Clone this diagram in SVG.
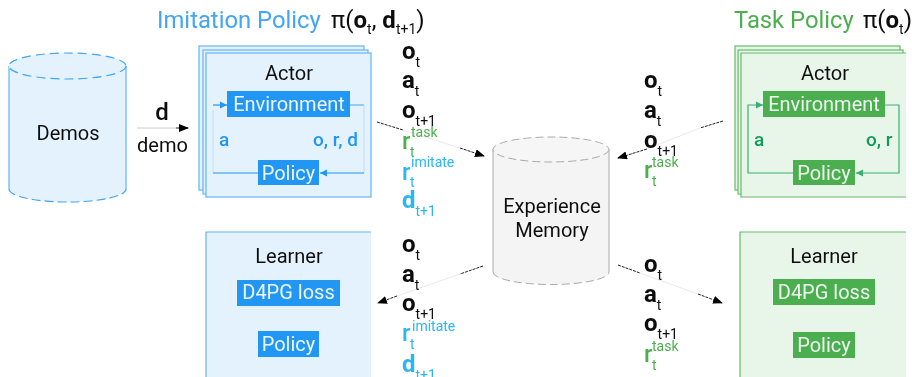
<svg xmlns="http://www.w3.org/2000/svg" width="912" height="377" viewBox="0 0 912 377">
<defs>
<filter id="soft" x="0" y="0" width="912" height="377" filterUnits="userSpaceOnUse"><feGaussianBlur stdDeviation="0.4"/></filter>
<marker id="ah" markerWidth="11" markerHeight="8" refX="9" refY="4" orient="auto" markerUnits="userSpaceOnUse"><path d="M0,0 L10,4 L0,8 Z" fill="#000"/></marker>
<marker id="ab" markerWidth="8" markerHeight="8" refX="7" refY="4" orient="auto" markerUnits="userSpaceOnUse"><path d="M0,0.5 L7,4 L0,7.5 Z" fill="#2196f3"/></marker>
<marker id="ag" markerWidth="8" markerHeight="8" refX="7" refY="4" orient="auto" markerUnits="userSpaceOnUse"><path d="M0,0.5 L7,4 L0,7.5 Z" fill="#0f9d58"/></marker>
</defs>
<style>
text{font-family:Roboto,"Liberation Sans",sans-serif;fill:#111}
.bf{fill:#e3f2fd;stroke:#64b5f6;stroke-width:1.2}
.gf{fill:#e8f5e9;stroke:#66bb6a;stroke-width:1.2}
.bb{fill:#2196f3}
.gb{fill:#4caf50}
.w{fill:#eef6fd;font-size:20px;text-anchor:middle}
.wg{fill:#eef8ef;font-size:20px;text-anchor:middle}
.l{font-size:20px;text-anchor:middle}
.m{font-size:24px;font-weight:700}
.r{font-weight:500}
.s{font-size:14px;font-weight:400}
.bt{fill:#2196f3}
.gt{fill:#4caf50}
.ct{fill:#29b6f6}
.tb{fill:#0f9d58}
.lb{fill:none;stroke:#2196f3;stroke-width:1.2}
.lg{fill:none;stroke:#0f9d58;stroke-width:1.2;opacity:.8}
.d{stroke:#222;stroke-width:1;stroke-dasharray:3 1;fill:none}
.p{stroke:#e8e8e8;stroke-width:1;fill:none}
</style>
<g filter="url(#soft)">
<g id="demos">
<path d="M9,66 V189 A58.5,13 0 0 0 126,189 V66 Z" fill="#e3f2fd"/>
<path d="M9,66 V189 M126,189 V66" fill="none" stroke="#64b5f6" stroke-width="1.2"/>
<path d="M9,189 A58.5,13 0 0 0 126,189" fill="none" stroke="#42a5f5" stroke-width="1.2" stroke-dasharray="9 4"/>
<ellipse cx="67.500" cy="66" rx="58.500" ry="13" fill="#e3f2fd" stroke="#42a5f5" stroke-width="1.200" stroke-dasharray="9 5"/>
<text x="68" y="140" class="l">Demos</text>
</g>
<g id="demo-label">
<text x="162" y="120" font-size="24" font-weight="500" text-anchor="middle">d</text>
<text x="162.500" y="152" class="l">demo</text>
</g>
<g id="imitation-title">
<text x="157" y="28" font-size="23.800" style="fill:#42a5f5">Imitation Policy</text>
<text x="331" y="28" font-size="24">π(<tspan font-weight="700">o</tspan><tspan font-size="14" dy="6">t</tspan><tspan dy="-6">, </tspan><tspan font-weight="700">d</tspan><tspan font-size="14" dy="6">t+1</tspan><tspan dy="-6">)</tspan></text>
</g>
<g id="task-title">
<text x="734" y="28" font-size="23.800" style="fill:#4caf50">Task Policy</text>
<text x="863" y="28" font-size="24">π(<tspan font-weight="700">o</tspan><tspan font-size="14" dy="6">t</tspan><tspan dy="-6">)</tspan></text>
</g>
<g id="imitation-actor">
<rect x="199" y="46" width="165" height="144" class="bf"/>
<rect x="203" y="50" width="165" height="144" class="bf"/>
<rect x="206" y="53" width="165" height="144" class="bf"/>
<text x="289" y="80" class="l">Actor</text>
<path d="M350,105 H364" class="lb" style="opacity:.7"/>
<path d="M364,105 V173 M213,110 V173" fill="none" stroke="#bbdefb" stroke-width="1"/>
<path d="M364,173 H320" class="lb" marker-end="url(#ab)"/>
<path d="M258,173 H213" class="lb"/>
<path d="M213,105 H227" class="lb" marker-end="url(#ab)"/>
<rect x="227" y="91" width="123" height="26" class="bb"/>
<text x="289" y="111" class="w">Environment</text>
<rect x="258" y="160" width="61" height="25" class="bb"/>
<text x="288.500" y="180" class="w">Policy</text>
<text x="219" y="146" font-size="19" font-weight="500" class="bt">a</text>
<text x="313" y="146" font-size="19" font-weight="500" class="bt">o, r, d</text>
</g>
<g id="task-actor">
<rect x="735" y="46" width="165" height="144" class="gf"/>
<rect x="738" y="50" width="165" height="144" class="gf"/>
<path d="M906,53 H741 V197 H906" class="gf"/>
<text x="825" y="80" class="l">Actor</text>
<path d="M885,105 H899 V173 H856" class="lg" marker-end="url(#ag)"/>
<path d="M793,173 H748 V105 H763" class="lg" marker-end="url(#ag)"/>
<rect x="763" y="91" width="122" height="26" class="gb"/>
<text x="824" y="111" class="wg">Environment</text>
<rect x="793" y="160" width="62" height="25" class="gb"/>
<text x="824" y="180" class="wg">Policy</text>
<text x="754" y="146" font-size="19" font-weight="500" class="tb">a</text>
<text x="866" y="146" font-size="19" font-weight="500" class="tb">o, r</text>
</g>
<g id="imitation-learner">
<path d="M206,377 V232 H371 V377 Z" fill="#e3f2fd"/>
<path d="M206,377 V232 H371" fill="none" stroke="#64b5f6" stroke-width="1.200"/>
<text x="289" y="263" class="l">Learner</text>
<rect x="237" y="280" width="103" height="26" class="bb"/>
<text x="288.500" y="299" class="w">D4PG loss</text>
<rect x="258" y="331" width="61" height="26" class="bb"/>
<text x="288.500" y="351" class="w">Policy</text>
</g>
<g id="task-learner">
<path d="M740,377 V232 H906 V377 Z" fill="#e8f5e9"/>
<path d="M740,377 V232 H906" fill="none" stroke="#66bb6a" stroke-width="1.200"/>
<text x="824" y="263" class="l">Learner</text>
<rect x="773" y="279" width="102" height="26" class="gb"/>
<text x="824" y="299" class="wg">D4PG loss</text>
<rect x="793" y="332" width="62" height="26" class="gb"/>
<text x="824" y="352" class="wg">Policy</text>
</g>
<g id="experience-memory">
<path d="M493,149 V272 A58,12.500 0 0 0 609,272 V149 Z" fill="#f4f4f4"/>
<path d="M493,149 V272 M609,272 V149" fill="none" stroke="#aaa" stroke-width="1"/>
<path d="M493,272 A58,12.500 0 0 0 609,272" fill="none" stroke="#aaa" stroke-width="1" stroke-dasharray="8 4"/>
<ellipse cx="551" cy="149.500" rx="58" ry="12.500" fill="#f6f6f6" stroke="#aaa" stroke-width="1" stroke-dasharray="8 4"/>
<text x="552" y="213" class="l">Experience</text>
<text x="552" y="237" class="l">Memory</text>
</g>
<g id="connectors">
<path d="M137,128 H176" stroke="#ccc" stroke-width="1" fill="none"/>
<path d="M176,128 H188" stroke="#222" stroke-width="1" fill="none" marker-end="url(#ah)"/>
<path d="M377,122 L403,130" class="d"/><path d="M403,130 L460,148" class="p"/><path d="M460,148 L484,156" class="d" marker-end="url(#ah)"/>
<path d="M723,121 L700,128" class="d"/><path d="M700,128 L647,149" class="p"/><path d="M647,149 L618,158" class="d" marker-end="url(#ah)"/>
<path d="M483,266 L460,274" class="d"/><path d="M460,274 L397,296" class="p"/><path d="M397,296 L378,303" class="d" marker-end="url(#ah)"/>
<path d="M618,265 L640,273" class="d"/><path d="M640,273 L698,294" class="p"/><path d="M698,294 L722,303" class="d" marker-end="url(#ah)"/>
</g>
<g id="labels-imitation-actor">
<text x="402" y="59" class="m">o<tspan class="s" dy="8">t</tspan></text>
<text x="402" y="88" class="m">a<tspan class="s" dy="8">t</tspan></text>
<text x="402" y="118" class="m">o<tspan class="s" dy="8">t+1</tspan></text>
<text x="402" y="149" class="m r gt">r<tspan class="s" x="410" y="157">t</tspan><tspan class="s" x="411" y="137">task</tspan></text>
<text x="402" y="180" class="m r ct">r<tspan class="s" x="410" y="187">t</tspan><tspan class="s" x="411" y="167">imitate</tspan></text>
<text x="402" y="208" class="m ct">d<tspan class="s" dy="8">t+1</tspan></text>
</g>
<g id="labels-task-actor">
<text x="644" y="88" class="m">o<tspan class="s" dy="8">t</tspan></text>
<text x="644" y="118" class="m">a<tspan class="s" dy="8">t</tspan></text>
<text x="644" y="148" class="m">o<tspan class="s" dy="8">t+1</tspan></text>
<text x="644" y="178" class="m r gt">r<tspan class="s" x="652" y="186">t</tspan><tspan class="s" x="652" y="167">task</tspan></text>
</g>
<g id="labels-imitation-learner">
<text x="402" y="252" class="m">o<tspan class="s" dy="8">t</tspan></text>
<text x="402" y="282" class="m">a<tspan class="s" dy="8">t</tspan></text>
<text x="402" y="311" class="m">o<tspan class="s" dy="8">t+1</tspan></text>
<text x="402" y="341" class="m r ct">r<tspan class="s" x="410" y="349">t</tspan><tspan class="s" x="412" y="331">imitate</tspan></text>
<text x="402" y="372" class="m ct">d<tspan class="s" dy="8">t+1</tspan></text>
</g>
<g id="labels-task-learner">
<text x="644" y="272" class="m">o<tspan class="s" dy="8">t</tspan></text>
<text x="644" y="302" class="m">a<tspan class="s" dy="8">t</tspan></text>
<text x="644" y="331" class="m">o<tspan class="s" dy="8">t+1</tspan></text>
<text x="644" y="362" class="m r gt">r<tspan class="s" x="652" y="370">t</tspan><tspan class="s" x="652" y="351">task</tspan></text>
</g>
</g>
</svg>
